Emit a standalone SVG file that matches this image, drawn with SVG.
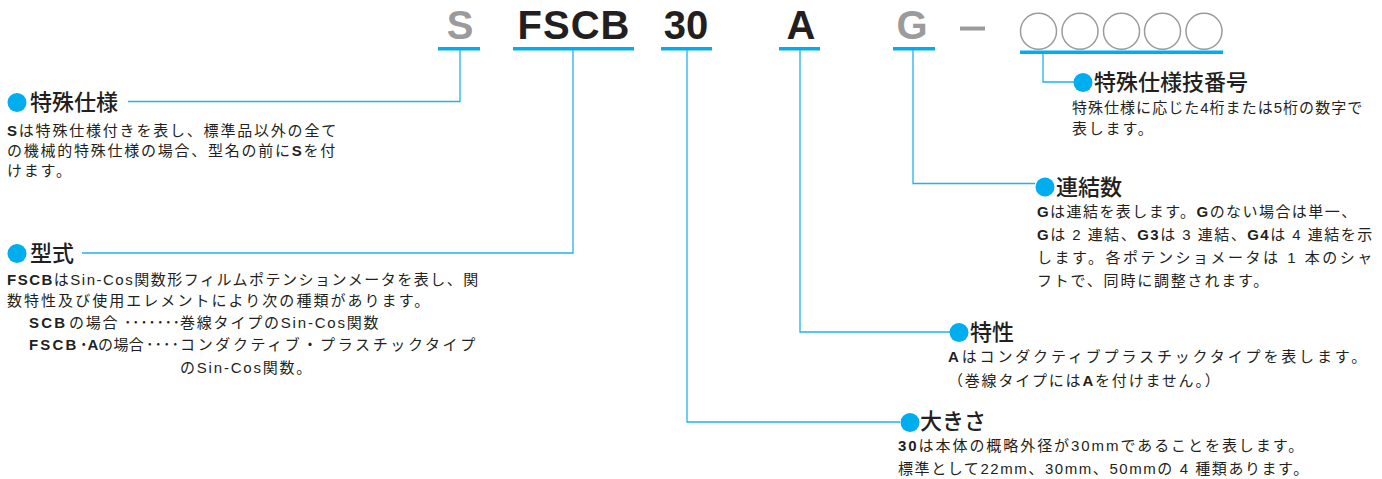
<svg xmlns="http://www.w3.org/2000/svg" width="1382" height="479" viewBox="0 0 1382 479">
<style>
text{font-family:"Liberation Sans","Noto Sans CJK JP",sans-serif;fill:#231f20}
.big{font-size:40px;font-weight:bold;text-anchor:middle}
.gray{fill:#9b9b9b}
.ul{fill:#00aeef}
.con{fill:none;stroke:#1fb2ec;stroke-width:1.3}
.dot{fill:#00aeef}
.h{font-size:22px;font-weight:500}
.b{font-size:15px;letter-spacing:1.8px}
.bd{font-weight:bold}
.circ{fill:none;stroke:#9b9b9b;stroke-width:1.5}
</style>
<g id="code">
<text class="big gray" x="460" y="39">S</text>
<text class="big" x="574" y="39" letter-spacing="1">FSCB</text>
<text class="big" x="686" y="39">30</text>
<text class="big" x="801" y="39">A</text>
<text class="big gray" x="912" y="39">G</text>
<rect x="960" y="26.5" width="25" height="4" style="fill:#9b9b9b"/>
<circle class="circ" cx="1038.5" cy="31.3" r="18"/>
<circle class="circ" cx="1080" cy="31.3" r="18"/>
<circle class="circ" cx="1121.5" cy="31.3" r="18"/>
<circle class="circ" cx="1162.5" cy="31.3" r="18"/>
<circle class="circ" cx="1204" cy="31.3" r="18"/>
<rect class="ul" x="438" y="47" width="42" height="3.5"/>
<rect class="ul" x="513" y="47" width="121" height="3.5"/>
<rect class="ul" x="661" y="47" width="51" height="3.5"/>
<rect class="ul" x="779" y="47" width="41" height="3.5"/>
<rect class="ul" x="893" y="47" width="42" height="3.5"/>
<rect class="ul" x="1020" y="50.5" width="203" height="3.5"/>
</g>
<g id="connectors">
<polyline class="con" points="460,50 460,101.5 128,101.5"/>
<polyline class="con" points="573,50 573,253 82,253"/>
<polyline class="con" points="687,50 687,422 900,422"/>
<polyline class="con" points="800,50 800,332 950,332"/>
<polyline class="con" points="913,50 913,183.5 1035,183.5"/>
<polyline class="con" points="1043,54 1043,82 1075,82"/>
</g>
<g id="node-tokushu">
<circle class="dot" cx="17" cy="102.5" r="9.5"/>
<text class="h" x="30" y="109.5">特殊仕様</text>
<text class="b" x="7" y="136" textLength="331"><tspan class="bd">S</tspan>は特殊仕様付きを表し、標準品以外の全て</text>
<text class="b" x="7" y="156" textLength="330">の機械的特殊仕様の場合、型名の前に<tspan class="bd">S</tspan>を付</text>
<text class="b" x="7" y="176">けます。</text>
</g>
<g id="node-katashiki">
<circle class="dot" cx="17" cy="253.5" r="9.5"/>
<text class="h" x="30" y="261">型式</text>
<text class="b" x="7" y="285" textLength="473"><tspan class="bd">FSCB</tspan>はSin-Cos関数形フィルムポテンションメータを表し、関</text>
<text class="b" x="7" y="306" textLength="424">数特性及び使用エレメントにより次の種類があります。</text>
<text class="b" x="29" y="328"><tspan class="bd" letter-spacing="2.2">SCB</tspan><tspan x="69">の場合</tspan><tspan x="124" letter-spacing="0.6">･･･････</tspan><tspan x="180">巻線タイプのSin-Cos関数</tspan></text>
<text class="b" x="29" y="350"><tspan class="bd" letter-spacing="2.2">FSCB</tspan><tspan class="bd" x="80" letter-spacing="0">･A</tspan><tspan x="98" letter-spacing="0.4">の場合</tspan><tspan x="146" letter-spacing="1">････</tspan><tspan x="180" textLength="297">コンダクティブ・プラスチックタイプ</tspan></text>
<text class="b" x="180" y="373">のSin-Cos関数。</text>
</g>
<g id="node-bango">
<circle class="dot" cx="1083" cy="82.5" r="9.5"/>
<text class="h" x="1094" y="90">特殊仕様技番号</text>
<text class="b" x="1072" y="113" textLength="292">特殊仕様に応じた4桁または5桁の数字で</text>
<text class="b" x="1072" y="134">表します。</text>
</g>
<g id="node-renketsu">
<circle class="dot" cx="1045" cy="187" r="9.5"/>
<text class="h" x="1056" y="195">連結数</text>
<text class="b" x="1037" y="217" textLength="321"><tspan class="bd">G</tspan>は連結を表します。<tspan class="bd">G</tspan>のない場合は単一、</text>
<text class="b" x="1037" y="240" textLength="337"><tspan class="bd">G</tspan>は 2 連結、<tspan class="bd">G3</tspan>は 3 連結、<tspan class="bd">G4</tspan>は 4 連結を示</text>
<text class="b" x="1037" y="263" textLength="337">します。各ポテンショメータは 1 本のシャ</text>
<text class="b" x="1037" y="286">フトで、同時に調整されます。</text>
</g>
<g id="node-tokusei">
<circle class="dot" cx="959" cy="332.5" r="9.5"/>
<text class="h" x="970" y="340">特性</text>
<text class="b" x="948" y="362" textLength="420"><tspan class="bd">A</tspan>はコンダクティブプラスチックタイプを表します。</text>
<text class="b" x="948" y="386">（巻線タイプには<tspan class="bd">A</tspan>を付けません。）</text>
</g>
<g id="node-ookisa">
<circle class="dot" cx="910" cy="422.5" r="9.5"/>
<text class="h" x="920" y="429">大きさ</text>
<text class="b" x="898" y="451" textLength="407"><tspan class="bd">30</tspan>は本体の概略外径が30mmであることを表します。</text>
<text class="b" x="898" y="474" textLength="412">標準として22mm、30mm、50mmの 4 種類あります。</text>
</g>
</svg>
